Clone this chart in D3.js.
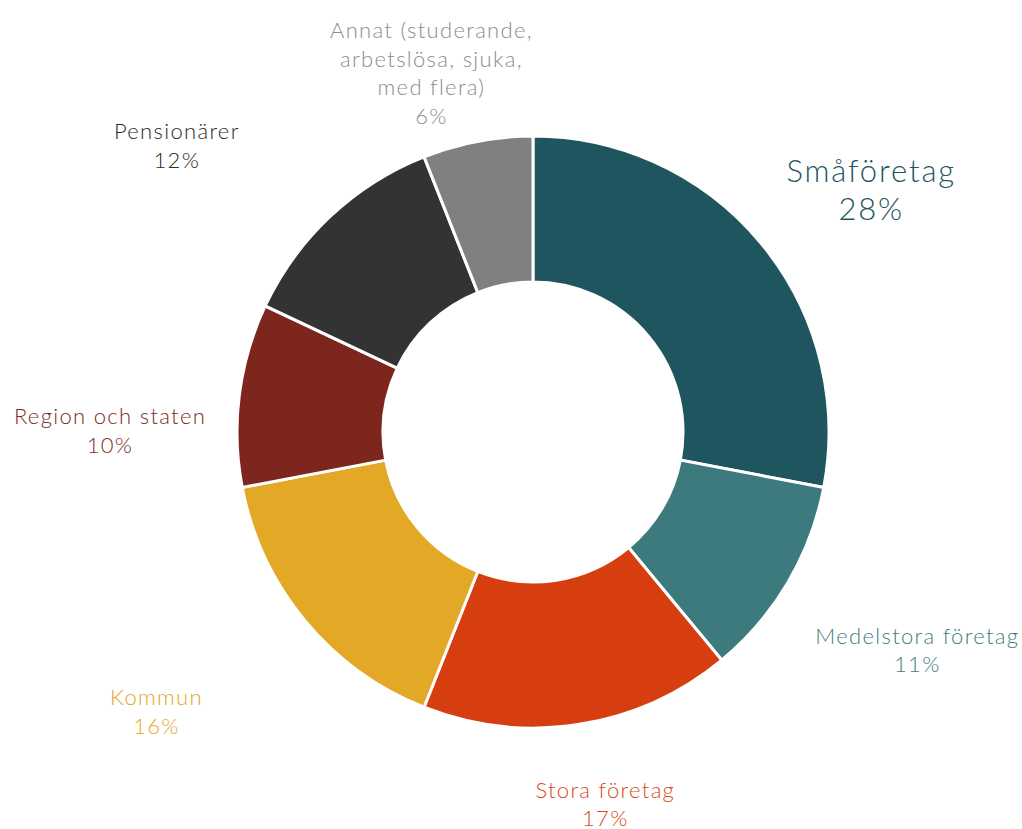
<!DOCTYPE html>
<html>
<head>
<meta charset="utf-8">
<script src="https://cdn.jsdelivr.net/npm/d3@7"></script>
<style>
  body { margin: 0; background: #fff; }
  text { font-family: Lato, "Open Sans", sans-serif; font-weight: 300; }
</style>
</head>
<body>
<svg class="chart" width="1022" height="829"></svg>
<script>
// data
const categories = ["Småföretag", "Medelstora företag", "Stora företag", "Kommun",
  "Region och staten", "Pensionärer", "Annat (studerande,\narbetslösa, sjuka,\nmed flera)"];
const shares = [28, 11, 17, 16, 10, 12, 6];

const sliceColors = ["#1f555e", "#3c7a7e", "#d63e10", "#e3a826", "#7d261e", "#333333", "#808080"];
const labelColors = ["#1f555e", "#3f7d80", "#d84a1a", "#e3a826", "#7d2a22", "#2a2a2a", "#8c8c8c"];

// label placement: distance from centre and small angle nudges (degrees)
const labelRadius = [416, 442, 379, 469, 423, 457, 373];
const labelNudge  = [4, -1, -2, 3, -7, -8, -5];
const fontSizes   = [31, 22, 22, 22, 22, 22, 22];

const svg = d3.select(".chart");
const cx = 533, cy = 432;
const outerR = 296, innerR = 150;

const g = svg.append("g").attr("transform", `translate(${cx},${cy})`);

const pie = d3.pie().sort(null).value(d => d);
const arc = d3.arc().innerRadius(innerR).outerRadius(outerR);
const arcs = pie(shares);

g.selectAll("path.slice")
  .data(arcs)
  .enter().append("path")
  .attr("class", "slice")
  .attr("d", arc)
  .attr("fill", (d, i) => sliceColors[i])
  .attr("stroke", "#fff")
  .attr("stroke-width", 3);

// labels
arcs.forEach((d, i) => {
  const mid = (d.startAngle + d.endAngle) / 2 + labelNudge[i] * Math.PI / 180;
  const x = Math.sin(mid) * labelRadius[i];
  const y = -Math.cos(mid) * labelRadius[i];
  const lines = categories[i].split("\n").concat([shares[i] + "%"]);
  const fs = fontSizes[i];
  const lh = i == 0 ? 38 : 28.5;
  const t = g.append("text")
    .attr("text-anchor", "middle")
    .attr("fill", labelColors[i])
    .style("font-size", fs + "px")
    .style("letter-spacing", (fs * 0.06) + "px");
  lines.forEach((ln, j) => {
    t.append("tspan")
      .attr("x", x)
      .attr("y", y + (j - (lines.length - 1) / 2) * lh + fs * 0.36)
      .text(ln);
  });
});
</script>
</body>
</html>
